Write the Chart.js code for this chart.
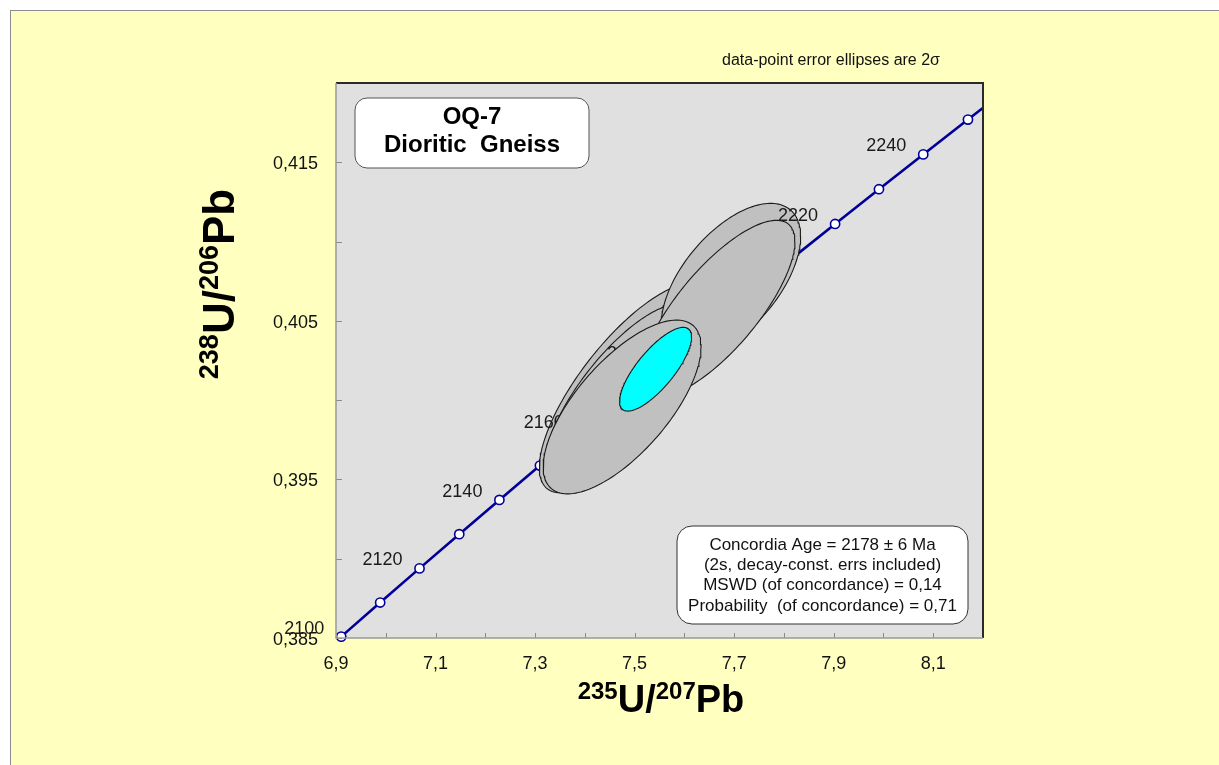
<!DOCTYPE html>
<html>
<head>
<meta charset="utf-8">
<title>OQ-7 Dioritic Gneiss – Concordia</title>
<script src="https://cdn.jsdelivr.net/npm/chart.js@4.4.1/dist/chart.umd.min.js"></script>
<style>
  html, body { margin: 0; padding: 0; background: #ffffff; overflow: hidden; width: 1219px; height: 765px; }
  #panel { position: absolute; left: 10px; top: 10px; width: 1300px; height: 900px; background: #ffffc0; border: 1px solid #8c8c8c; }
  #chart { position: absolute; left: 0; top: 0; }
</style>
</head>
<body>
<div id="panel"></div>
<canvas id="chart" width="1219" height="765"></canvas>
<script>
// Concordia curve (Wetherill), 10 Ma steps
const concordiaAge = [2100, 2110, 2120, 2130, 2140, 2150, 2160, 2170, 2180, 2190, 2200, 2210, 2220, 2230, 2240, 2250, 2260];
const concordiaX = [6.91046, 6.98875, 7.06781, 7.14766, 7.22830, 7.30974, 7.39198, 7.47504, 7.55892, 7.64363, 7.72917, 7.81557, 7.90282, 7.99093, 8.07992, 8.16978, 8.26054];
const concordiaY = [0.385086, 0.387236, 0.389390, 0.391547, 0.393707, 0.395871, 0.398038, 0.400208, 0.402382, 0.404559, 0.406740, 0.408924, 0.411111, 0.413302, 0.415496, 0.417694, 0.419895];
const labelledAges = [2100, 2120, 2140, 2160, 2180, 2200, 2220, 2240];

// Zircon spot analyses: 235U/207Pb, 238U/206Pb, 2-sigma errors and error correlation
const spotX    = [7.4829, 7.4709, 7.6936, 7.6672, 7.4749];
const spotXErr = [0.1744, 0.1524, 0.1400, 0.1549, 0.1586];
const spotY    = [0.40077, 0.40027, 0.40756, 0.40578, 0.39957];
const spotYErr = [0.00661, 0.00578, 0.00485, 0.00556, 0.00548];
const spotRho  = [0.76, 0.76, 0.57, 0.76, 0.69];

// Concordia age ellipse (2178 Ma)
const concAge  = [2178];
const concX    = [7.5421];
const concXErr = [0.0724];
const concY    = [0.40195];
const concYErr = [0.00264];
const concRho  = [0.77];

// Axis ticks
const xTicks = [6.9, 7.0, 7.1, 7.2, 7.3, 7.4, 7.5, 7.6, 7.7, 7.8, 7.9, 8.0, 8.1, 8.2];
const xTickLabels = ['6,9', '', '7,1', '', '7,3', '', '7,5', '', '7,7', '', '7,9', '', '8,1', ''];
const yTicks = [0.385, 0.390, 0.395, 0.400, 0.405, 0.410, 0.415, 0.420];
const yTickLabels = ['0,385', '', '0,395', '', '0,405', '', '0,415', ''];

const FONT = "'Liberation Sans', Arial, Helvetica, sans-serif";
const NAVY = '#000099';

function ellipsePoints(cx, ex, cy, ey, rho) {
  const n = 160, k = Math.sqrt(1 - rho * rho), pts = [];
  for (let i = 0; i <= n; i++) {
    const t = 2 * Math.PI * i / n;
    pts.push({ x: cx + ex * Math.cos(t), y: cy + ey * (rho * Math.cos(t) + k * Math.sin(t)) });
  }
  return pts;
}

const concordiaPts = concordiaAge.map((a, i) => ({ x: concordiaX[i], y: concordiaY[i] }));

const datasets = [
  { // curve
    data: concordiaPts, showLine: true, borderColor: NAVY, borderWidth: 2.6,
    pointRadius: 0, fill: false, tension: 0, order: 20, clip: 0
  },
  { // age markers
    data: concordiaPts, showLine: false, pointRadius: 4.6, pointBorderWidth: 1.6,
    pointBackgroundColor: '#ffffff', pointBorderColor: NAVY, order: 19,
    clip: { left: 10, bottom: 10, top: 0, right: 0 }
  }
];
spotX.forEach((x, i) => {
  datasets.push({
    data: ellipsePoints(x, spotXErr[i], spotY[i], spotYErr[i], spotRho[i]),
    showLine: true, fill: 'shape', backgroundColor: '#c0c0c0', borderColor: '#1a1a1a',
    borderWidth: 1.1, pointRadius: 0, tension: 0, order: 18 - i
  });
});
datasets.push({
  data: ellipsePoints(concX[0], concXErr[0], concY[0], concYErr[0], concRho[0]),
  showLine: true, fill: 'shape', backgroundColor: '#00ffff', borderColor: '#1a1a1a',
  borderWidth: 1.1, pointRadius: 0, tension: 0, order: 10
});

function roundRect(ctx, x, y, w, h, r) {
  ctx.beginPath();
  ctx.moveTo(x + r, y);
  ctx.lineTo(x + w - r, y);
  ctx.arcTo(x + w, y, x + w, y + r, r);
  ctx.lineTo(x + w, y + h - r);
  ctx.arcTo(x + w, y + h, x + w - r, y + h, r);
  ctx.lineTo(x + r, y + h);
  ctx.arcTo(x, y + h, x, y + h - r, r);
  ctx.lineTo(x, y + r);
  ctx.arcTo(x, y, x + r, y, r);
  ctx.closePath();
}

// ratio title with superscripted mass numbers: [[sup, main], ...]
function ratioWidth(ctx, parts, mainPx, supPx) {
  let w = 0;
  parts.forEach(([sup, main]) => {
    ctx.font = 'bold ' + supPx + 'px ' + FONT; w += ctx.measureText(sup).width;
    ctx.font = 'bold ' + mainPx + 'px ' + FONT; w += ctx.measureText(main).width;
  });
  return w;
}
function drawRatio(ctx, parts, x0, baseline, mainPx, supPx, rise) {
  let x = x0;
  ctx.textAlign = 'left'; ctx.textBaseline = 'alphabetic';
  parts.forEach(([sup, main]) => {
    ctx.font = 'bold ' + supPx + 'px ' + FONT;
    ctx.fillText(sup, x, baseline - rise); x += ctx.measureText(sup).width;
    ctx.font = 'bold ' + mainPx + 'px ' + FONT;
    ctx.fillText(main, x, baseline); x += ctx.measureText(main).width;
  });
}

const decorations = {
  id: 'decorations',
  beforeDraw(chart) {
    const { ctx, chartArea: a } = chart;
    ctx.save();
    ctx.fillStyle = '#e0e0e0';
    ctx.fillRect(a.left, a.top, a.right - a.left, a.bottom - a.top);
    ctx.restore();
  },
  afterDatasetDraw(chart, args) {
    if (args.index !== 4) return;
    const { ctx, scales: { x, y } } = chart;
    ctx.save();
    ctx.font = '18px ' + FONT;
    ctx.fillStyle = '#1a1a1a';
    ctx.textAlign = 'right';
    ctx.textBaseline = 'middle';
    labelledAges.forEach(age => {
      const i = concordiaAge.indexOf(age);
      const px = x.getPixelForValue(concordiaX[i]);
      const py = y.getPixelForValue(concordiaY[i]);
      ctx.fillText(String(age), px - 17, py - 8);
    });
    ctx.restore();
  },
  afterDraw(chart) {
    const { ctx, chartArea: a, scales: { x, y } } = chart;
    ctx.save();
    // tick marks (inside)
    ctx.strokeStyle = '#8a8a8a'; ctx.lineWidth = 1;
    xTicks.forEach(v => {
      const px = Math.round(x.getPixelForValue(v)) + 0.5;
      ctx.beginPath(); ctx.moveTo(px, a.bottom); ctx.lineTo(px, a.bottom - 5); ctx.stroke();
    });
    yTicks.forEach(v => {
      const py = Math.round(y.getPixelForValue(v)) + 0.5;
      ctx.beginPath(); ctx.moveTo(a.left, py); ctx.lineTo(a.left + 6, py); ctx.stroke();
    });
    // frame
    ctx.strokeStyle = '#2a2a2a'; ctx.lineWidth = 2;
    ctx.beginPath(); ctx.moveTo(a.left, a.top); ctx.lineTo(a.right, a.top); ctx.lineTo(a.right, a.bottom); ctx.stroke();
    ctx.strokeStyle = '#999999'; ctx.lineWidth = 1.5;
    ctx.beginPath(); ctx.moveTo(a.left, a.top); ctx.lineTo(a.left, a.bottom); ctx.lineTo(a.right, a.bottom); ctx.stroke();

    // sample box
    roundRect(ctx, a.left + 19, a.top + 15, 234, 70, 12);
    ctx.fillStyle = '#ffffff'; ctx.fill();
    ctx.strokeStyle = '#555555'; ctx.lineWidth = 1; ctx.stroke();
    ctx.fillStyle = '#000000';
    ctx.font = 'bold 24px ' + FONT; ctx.textAlign = 'center'; ctx.textBaseline = 'middle';
    ctx.fillText('OQ-7', a.left + 136, a.top + 34);
    ctx.fillText('Dioritic  Gneiss', a.left + 136, a.top + 62);

    // result box
    roundRect(ctx, a.left + 341, a.top + 443, 291, 98, 15);
    ctx.fillStyle = '#ffffff'; ctx.fill();
    ctx.strokeStyle = '#333333'; ctx.lineWidth = 1; ctx.stroke();
    ctx.fillStyle = '#111111';
    ctx.font = '17px ' + FONT;
    const cx = a.left + 486.5;
    ctx.fillText('Concordia Age = ' + concAge[0] + ' ± 6 Ma', cx, a.top + 462);
    ctx.fillText('(2s, decay-const. errs included)', cx, a.top + 482);
    ctx.fillText('MSWD (of concordance) = 0,14', cx, a.top + 502);
    ctx.fillText('Probability  (of concordance) = 0,71', cx, a.top + 523);

    // note above plot
    ctx.font = '16px ' + FONT; ctx.textAlign = 'left'; ctx.textBaseline = 'alphabetic';
    ctx.fillStyle = '#111111';
    ctx.fillText('data-point error ellipses are 2σ', 722, 65);

    // axis titles
    ctx.fillStyle = '#000000';
    const xParts = [['235', 'U/'], ['207', 'Pb']];
    const xw = ratioWidth(ctx, xParts, 38, 24);
    drawRatio(ctx, xParts, 661 - xw / 2, 712, 38, 24, 13);

    const yParts = [['238', 'U/'], ['206', 'Pb']];
    const yw = ratioWidth(ctx, yParts, 44, 27);
    ctx.translate(234, 284);
    ctx.rotate(-Math.PI / 2);
    drawRatio(ctx, yParts, -yw / 2, 0, 44, 27, 16);
    ctx.restore();
  }
};

new Chart(document.getElementById('chart'), {
  type: 'scatter',
  data: { datasets },
  plugins: [decorations],
  options: {
    responsive: false,
    animation: false,
    devicePixelRatio: 1,
    layout: { padding: { left: 0, top: 83, right: 236, bottom: 0 } },
    plugins: { legend: { display: false }, tooltip: { enabled: false } },
    scales: {
      x: {
        type: 'linear', position: 'bottom', min: 6.9, max: 8.2,
        afterFit: s => { s.height = 127; },
        afterBuildTicks: s => { s.ticks = xTicks.map(v => ({ value: v })); },
        grid: { display: false, drawTicks: false },
        border: { display: false },
        ticks: {
          autoSkip: false, maxRotation: 0, padding: 15, color: '#111111',
          font: { family: FONT, size: 18 },
          callback: (v, i) => xTickLabels[i]
        }
      },
      y: {
        type: 'linear', position: 'left', min: 0.385, max: 0.42,
        afterFit: s => { s.width = 336; },
        afterBuildTicks: s => { s.ticks = yTicks.map(v => ({ value: v })); },
        grid: { display: false, drawTicks: false },
        border: { display: false },
        ticks: {
          autoSkip: false, padding: 18, labelOffset: 2, color: '#111111',
          font: { family: FONT, size: 18 },
          callback: (v, i) => yTickLabels[i]
        }
      }
    }
  }
});
</script>
</body>
</html>
